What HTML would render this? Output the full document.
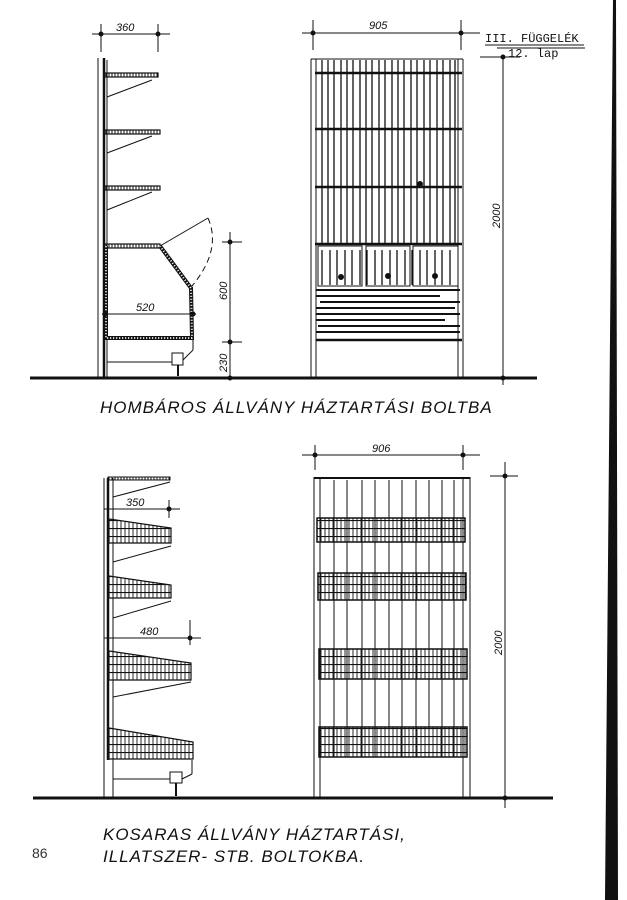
<!DOCTYPE html>
<html><head><meta charset="utf-8"><style>
html,body{margin:0;padding:0;background:#fff;}
svg{display:block;}
.h{font-family:"Liberation Sans",sans-serif;font-style:italic;fill:#111;}
</style></head><body>
<svg width="627" height="900" viewBox="0 0 627 900" xmlns="http://www.w3.org/2000/svg" stroke="#111" fill="none" stroke-width="1">
<defs>
<pattern id="vh" width="3" height="4" patternUnits="userSpaceOnUse"><line x1="1" y1="0" x2="1" y2="4" stroke="#111" stroke-width="1"/></pattern>
<pattern id="gr" width="4" height="8" patternUnits="userSpaceOnUse"><line x1="1" y1="0" x2="1" y2="8" stroke="#111" stroke-width="0.9"/><line x1="0" y1="0.5" x2="4" y2="0.5" stroke="#111" stroke-width="1.2"/></pattern>
</defs>
<!-- right edge bar -->
<polygon points="613,0 616,0 618,900 605,900" fill="#111" stroke="none"/>

<!-- header -->
<text x="485" y="42" font-family="Liberation Mono" font-size="12" fill="#111" stroke="none">III. FÜGGELÉK</text>
<line x1="485" y1="45" x2="584" y2="45"/>
<line x1="497" y1="48" x2="585" y2="48"/>
<text x="508" y="57" font-family="Liberation Mono" font-size="12" fill="#111" stroke="none">12. lap</text>

<!-- ===== TOP ===== -->
<line x1="30" y1="378" x2="537" y2="378" stroke-width="3"/>
<line x1="98" y1="58" x2="98" y2="378"/><line x1="104" y1="58" x2="104" y2="378" stroke-width="2.5"/><line x1="107" y1="60" x2="107" y2="378"/>
<g fill="url(#vh)" stroke-width="1.2">
<rect x="104" y="73" width="54" height="4"/><rect x="104" y="130" width="56" height="4"/><rect x="104" y="186" width="56" height="4"/>
<rect x="104" y="244" width="56" height="4"/>
</g>
<line x1="107" y1="97" x2="152" y2="80"/><line x1="107" y1="153" x2="152" y2="136"/><line x1="107" y1="210" x2="152" y2="192"/>
<polyline points="160,246 188,284 191,288 192,338 106,338 106,246" stroke-width="4" stroke="#111"/>
<polyline points="160,246 188,284 191,288 192,338 106,338 106,246" stroke-width="2" stroke="#fff" stroke-dasharray="1 2"/>
<line x1="160" y1="246" x2="208" y2="218"/>
<path d="M208,218 Q222,250 192,286" stroke-dasharray="6 4"/>
<line x1="102" y1="314" x2="196" y2="314"/><circle cx="105" cy="314" r="2" fill="#111"/><circle cx="193" cy="314" r="2" fill="#111"/>
<text x="136" y="311" class="h" font-size="11" stroke="none">520</text>
<line x1="230" y1="232" x2="230" y2="378"/><line x1="222" y1="242" x2="242" y2="242"/><line x1="222" y1="342" x2="242" y2="342"/>
<circle cx="230" cy="242" r="2" fill="#111"/><circle cx="230" cy="342" r="2" fill="#111"/><circle cx="230" cy="378" r="2" fill="#111"/>
<text transform="translate(227,300) rotate(-90)" class="h" font-size="11" stroke="none">600</text>
<text transform="translate(227,372) rotate(-90)" class="h" font-size="11" stroke="none">230</text>
<line x1="107" y1="362" x2="172" y2="362"/><rect x="172" y="353" width="11" height="12"/><line x1="178" y1="365" x2="178" y2="376" stroke-width="2"/><line x1="183" y1="360" x2="193" y2="350"/><line x1="193" y1="350" x2="193" y2="338"/>
<line x1="92" y1="34" x2="170" y2="34"/><line x1="101" y1="24" x2="101" y2="52"/><line x1="158" y1="24" x2="158" y2="52"/>
<circle cx="101" cy="34" r="2" fill="#111"/><circle cx="158" cy="34" r="2" fill="#111"/>
<text x="116" y="31" class="h" font-size="11" stroke="none">360</text>
<line x1="311" y1="59" x2="311" y2="378"/><line x1="316" y1="59" x2="316" y2="378"/>
<line x1="458" y1="59" x2="458" y2="378"/><line x1="463" y1="59" x2="463" y2="378"/>
<line x1="311" y1="59" x2="463" y2="59"/>
<g stroke-width="2.5"><line x1="315" y1="73" x2="462" y2="73"/><line x1="315" y1="129" x2="462" y2="129"/><line x1="315" y1="187" x2="462" y2="187"/><line x1="315" y1="244" x2="462" y2="244"/><line x1="316" y1="340" x2="462" y2="340"/></g>
<g stroke-width="1.3">
<path d="M322,60V244M328,60V244M334,60V244M341,60V244M347,60V244M353,60V244M360,60V244M366,60V244M372,60V244M379,60V244M385,60V244M392,60V244M398,60V244M404,60V244M411,60V244M417,60V244M424,60V244M430,60V244M437,60V244M443,60V244M450,60V244M455,60V244"/>
<path d="M322,250V285M330,250V285M337,250V285M345,250V285M352,250V285M360,250V285M367,250V285M375,250V285M382,250V285M390,250V285M397,250V285M405,250V285M412,250V285M420,250V285M427,250V285M435,250V285M442,250V285M450,250V285"/>
</g>
<rect x="318" y="246" width="44" height="40"/><rect x="366" y="246" width="44" height="40"/><rect x="413" y="246" width="45" height="40"/>
<circle cx="341" cy="277" r="2.5" fill="#111"/><circle cx="388" cy="276" r="2.5" fill="#111"/><circle cx="435" cy="276" r="2.5" fill="#111"/><circle cx="420" cy="184" r="2.5" fill="#111"/>
<g stroke-width="2"><path d="M316,290H460M316,296H440M320,302H460M316,308H455M316,314H460M316,320H445M318,326H460M316,332H460"/></g>
<line x1="302" y1="33" x2="480" y2="33"/><line x1="313" y1="20" x2="313" y2="50"/><line x1="461" y1="20" x2="461" y2="50"/>
<circle cx="313" cy="33" r="2" fill="#111"/><circle cx="461" cy="33" r="2" fill="#111"/>
<text x="369" y="29" class="h" font-size="11" stroke="none">905</text>
<line x1="503" y1="57" x2="503" y2="385"/><line x1="480" y1="57" x2="520" y2="57"/>
<circle cx="503" cy="57" r="2" fill="#111"/><circle cx="503" cy="378" r="2" fill="#111"/>
<text transform="translate(500,228) rotate(-90)" class="h" font-size="11" stroke="none">2000</text>
<text x="100" y="413" class="h" font-size="17" letter-spacing="1" stroke="none">HOMBÁROS ÁLLVÁNY HÁZTARTÁSI BOLTBA</text>

<!-- ===== BOTTOM ===== -->
<line x1="33" y1="798" x2="553" y2="798" stroke-width="3"/>
<line x1="104" y1="478" x2="104" y2="798"/><line x1="108" y1="478" x2="108" y2="760" stroke-width="2.5"/><line x1="113" y1="478" x2="113" y2="798"/>
<rect x="108" y="477" width="62" height="3" fill="url(#vh)"/>
<line x1="113" y1="497" x2="170" y2="482"/>
<g fill="url(#gr)" stroke-width="1.2">
<polygon points="109,519 171,528 171,543 109,543"/>
<polygon points="109,576 171,585 171,598 109,598"/>
<polygon points="109,651 191,663 191,680 109,680"/>
<polygon points="109,728 193,742 193,759 109,759"/>
</g>
<line x1="113" y1="562" x2="171" y2="546"/><line x1="113" y1="618" x2="171" y2="601"/><line x1="113" y1="697" x2="191" y2="682"/>
<line x1="104" y1="509" x2="180" y2="509"/><line x1="169" y1="500" x2="169" y2="518"/><circle cx="169" cy="509" r="2" fill="#111"/>
<text x="126" y="506" class="h" font-size="11" stroke="none">350</text>
<line x1="104" y1="638" x2="201" y2="638"/><line x1="190" y1="620" x2="190" y2="645"/><circle cx="190" cy="638" r="2" fill="#111"/>
<text x="140" y="635" class="h" font-size="11" stroke="none">480</text>
<line x1="113" y1="779" x2="170" y2="779"/><rect x="170" y="772" width="12" height="11"/><line x1="176" y1="783" x2="176" y2="796" stroke-width="2"/><line x1="182" y1="779" x2="192" y2="774"/><line x1="192" y1="774" x2="192" y2="760"/>
<line x1="314" y1="477" x2="314" y2="798"/><line x1="320" y1="477" x2="320" y2="798"/>
<line x1="463" y1="477" x2="463" y2="798"/><line x1="470" y1="477" x2="470" y2="798"/>
<line x1="314" y1="478" x2="470" y2="478" stroke-width="2"/>
<g stroke-width="1"><path d="M334,480V757M347,480V757M362,480V757M375,480V757M389,480V757M402,480V757M416,480V757M429,480V757M442,480V757M454,480V757"/></g>
<g fill="url(#gr)" stroke-width="1.5">
<rect x="317" y="518" width="148" height="24"/><rect x="318" y="573" width="148" height="27"/>
<rect x="319" y="649" width="148" height="30"/><rect x="319" y="727" width="148" height="30"/>
</g>
<line x1="302" y1="455" x2="480" y2="455"/><line x1="315" y1="445" x2="315" y2="470"/><line x1="463" y1="445" x2="463" y2="470"/>
<circle cx="315" cy="455" r="2" fill="#111"/><circle cx="463" cy="455" r="2" fill="#111"/>
<text x="372" y="452" class="h" font-size="11" stroke="none">906</text>
<line x1="505" y1="462" x2="505" y2="808"/><line x1="490" y1="476" x2="518" y2="476"/>
<circle cx="505" cy="476" r="2" fill="#111"/><circle cx="505" cy="798" r="2" fill="#111"/>
<text transform="translate(502,655) rotate(-90)" class="h" font-size="11" stroke="none">2000</text>
<text x="103" y="840" class="h" font-size="17" letter-spacing="1" stroke="none">KOSARAS ÁLLVÁNY HÁZTARTÁSI,</text>
<text x="103" y="862" class="h" font-size="17" letter-spacing="1" stroke="none">ILLATSZER- STB. BOLTOKBA.</text>
<text x="32" y="858" font-family="Liberation Sans" font-size="14" fill="#333" stroke="none">86</text>
</svg>
</body></html>
